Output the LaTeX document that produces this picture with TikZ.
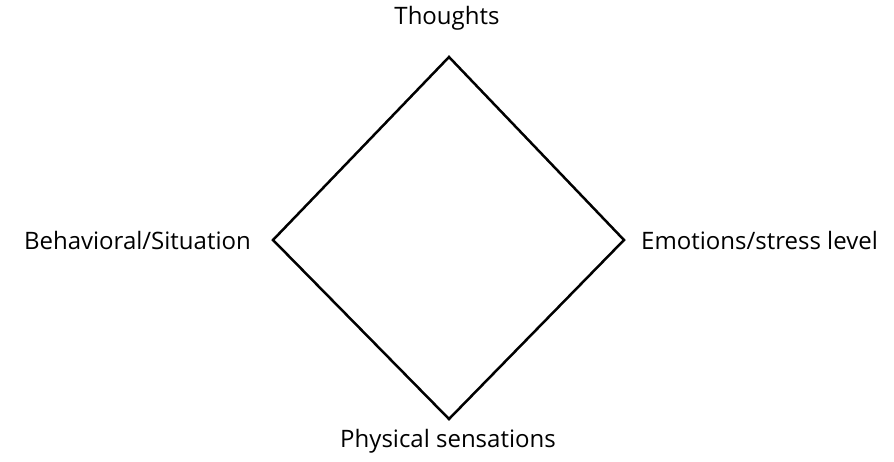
\documentclass[tikz,border=0pt]{standalone}
\usepackage{fontspec}
\setmainfont{Open Sans}
\begin{document}
\begin{tikzpicture}[x=1pt,y=-1pt,
  lbl/.style={inner sep=0pt,font=\fontsize{24}{28}\selectfont}]
\useasboundingbox (0,0) rectangle (894,461);
\coordinate (T) at (449,57);
\coordinate (L) at (273,240);
\coordinate (R) at (624,240);
\coordinate (B) at (449,419);
\draw[line width=2.5pt,line join=miter] (T) -- (R) -- (B) -- (L) -- cycle;
\node[lbl] (t) at (447,18) {Thoughts};
\node[lbl,anchor=east] (l) at (251,240) {Behavioral/Situation};
\node[lbl,anchor=west] (r) at (641,240) {Emotions/stress level};
\node[lbl] (b) at (448,441) {Physical sensations};
\end{tikzpicture}
\end{document}
